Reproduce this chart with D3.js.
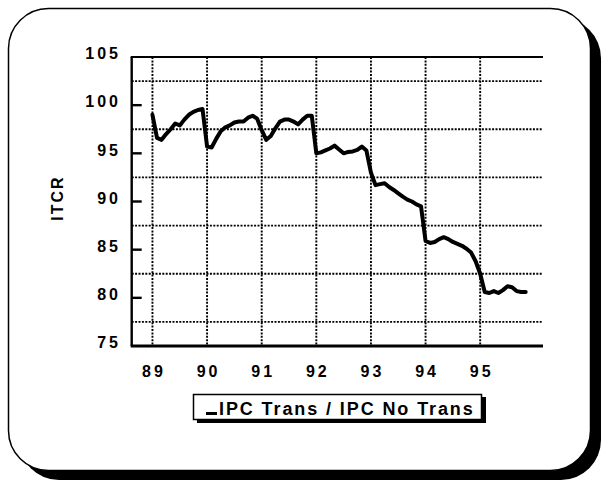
<!DOCTYPE html>
<html>
<head>
<meta charset="utf-8">
<script src="https://cdn.jsdelivr.net/npm/d3@7"></script>
<style>
  html, body { margin: 0; padding: 0; background: #fff; }
  svg { display: block; }
  text { font-family: "Liberation Sans", Arial, Helvetica, sans-serif; font-weight: bold; fill: #000; }
</style>
</head>
<body>
<svg id="chart" width="604" height="487"></svg>
<script>
// ---- data (monthly, starting January 1989) ----
const startYear = 89;
const itcr = [
  99.0, 96.6, 96.4, 97.0, 97.5, 98.1, 97.9, 98.5, 99.0, 99.3, 99.5, 99.6,   // 89
  95.7, 95.6, 96.5, 97.3, 97.7, 97.9, 98.2, 98.3, 98.3, 98.7, 98.9, 98.6,   // 90
  97.4, 96.4, 96.8, 97.6, 98.3, 98.5, 98.5, 98.3, 98.0, 98.5, 98.9, 98.9,   // 91
  95.0, 95.1, 95.3, 95.5, 95.8, 95.4, 95.0, 95.15, 95.2, 95.35, 95.7, 95.3, // 92
  93.0, 91.7, 91.8, 91.9, 91.5, 91.2, 90.85, 90.5, 90.2, 90.0, 89.7, 89.5,  // 93
  85.9, 85.7, 85.8, 86.1, 86.3, 86.1, 85.8, 85.6, 85.4, 85.1, 84.7, 83.8,   // 94
  82.5, 80.6, 80.5, 80.7, 80.5, 80.8, 81.2, 81.1, 80.7, 80.6, 80.6          // 95
];
const xTickLabels = ["89", "90", "91", "92", "93", "94", "95"];
const xTicks = [89, 90, 91, 92, 93, 94, 95];
const yTicks = [75, 80, 85, 90, 95, 100, 105];
const yGrid = [77.5, 82.5, 87.5, 92.5, 97.5, 102.5];
const yLabel = "ITCR";
const seriesName = "IPC Trans / IPC No Trans";

const svg = d3.select("#chart");

// ---- outer rounded frame with drop shadow ----
svg.append("rect").attr("x", 19).attr("y", 18).attr("width", 582).attr("height", 462)
  .attr("rx", 40).attr("ry", 40).attr("fill", "#000");
svg.append("rect").attr("x", 8.5).attr("y", 8.5).attr("width", 582).attr("height", 462)
  .attr("rx", 40).attr("ry", 40).attr("fill", "#fff").attr("stroke", "#000").attr("stroke-width", 1.5);

// ---- scales ----
const x = d3.scaleLinear().domain([88.62, 96.15]).range([131.7, 543]);
const y = d3.scaleLinear().domain([75, 105]).range([346, 57]);

const data = itcr.map((v, i) => ({ t: startYear + i / 12, v }));

const g = svg.append("g");

// dotted grid
g.selectAll("line.hgrid").data(yGrid).join("line")
  .attr("x1", x.range()[0]).attr("x2", x.range()[1])
  .attr("y1", d => y(d)).attr("y2", d => y(d))
  .attr("stroke", "#000").attr("stroke-width", 1.9).attr("stroke-dasharray", "2,1.4");
g.selectAll("line.vgrid").data(xTicks).join("line")
  .attr("x1", d => x(d)).attr("x2", d => x(d))
  .attr("y1", y(105)).attr("y2", y(75))
  .attr("stroke", "#000").attr("stroke-width", 1.9).attr("stroke-dasharray", "2,1.4");

// axes frame: left, top, bottom
g.append("line").attr("x1", x.range()[0]).attr("x2", x.range()[0]).attr("y1", y(105)).attr("y2", y(75))
  .attr("stroke", "#000").attr("stroke-width", 2.4);
g.append("line").attr("x1", x.range()[0] - 1).attr("x2", x.range()[1]).attr("y1", y(105)).attr("y2", y(105))
  .attr("stroke", "#000").attr("stroke-width", 2.2);
g.append("line").attr("x1", x.range()[0] - 1).attr("x2", x.range()[1]).attr("y1", y(75)).attr("y2", y(75))
  .attr("stroke", "#000").attr("stroke-width", 2.8);

// y major ticks (inward)
g.selectAll("line.ytick").data(yTicks.slice(1, -1)).join("line")
  .attr("x1", x.range()[0]).attr("x2", x.range()[0] + 10)
  .attr("y1", d => y(d)).attr("y2", d => y(d))
  .attr("stroke", "#000").attr("stroke-width", 2.4);

// y tick labels
g.selectAll("text.ylab").data(yTicks).join("text")
  .attr("x", 121).attr("y", d => y(d) - 2)
  .attr("text-anchor", "end").attr("dominant-baseline", "middle")
  .style("font-size", "16px").style("letter-spacing", "3px")
  .text(d => d);

// x tick labels
g.selectAll("text.xlab").data(xTicks).join("text")
  .attr("x", d => x(d) + 1.5).attr("y", 377)
  .attr("text-anchor", "middle")
  .style("font-size", "16px").style("letter-spacing", "3px")
  .text((d, i) => xTickLabels[i]);

// y axis title
g.append("text")
  .attr("transform", "translate(63,198) rotate(-90)")
  .attr("text-anchor", "middle")
  .style("font-size", "16px").style("letter-spacing", "2px")
  .text(yLabel);

// series line
const line = d3.line().x(d => x(d.t)).y(d => y(d.v)).curve(d3.curveLinear);
g.append("path").datum(data)
  .attr("d", line).attr("fill", "none").attr("stroke", "#000")
  .attr("stroke-width", 4).attr("stroke-linejoin", "round").attr("stroke-linecap", "round");

// legend
const lg = svg.append("g");
lg.append("rect").attr("x", 197).attr("y", 397).attr("width", 289).attr("height", 26).attr("fill", "#000");
lg.append("rect").attr("x", 193.5).attr("y", 394.5).attr("width", 288).attr("height", 25)
  .attr("fill", "#fff").attr("stroke", "#000").attr("stroke-width", 1.5);
lg.append("line").attr("x1", 206).attr("x2", 217).attr("y1", 413.5).attr("y2", 413.5)
  .attr("stroke", "#000").attr("stroke-width", 3);
lg.append("text").attr("x", 219).attr("y", 414.5)
  .style("font-size", "18px").style("letter-spacing", "1.9px")
  .text(seriesName);
</script>
</body>
</html>
